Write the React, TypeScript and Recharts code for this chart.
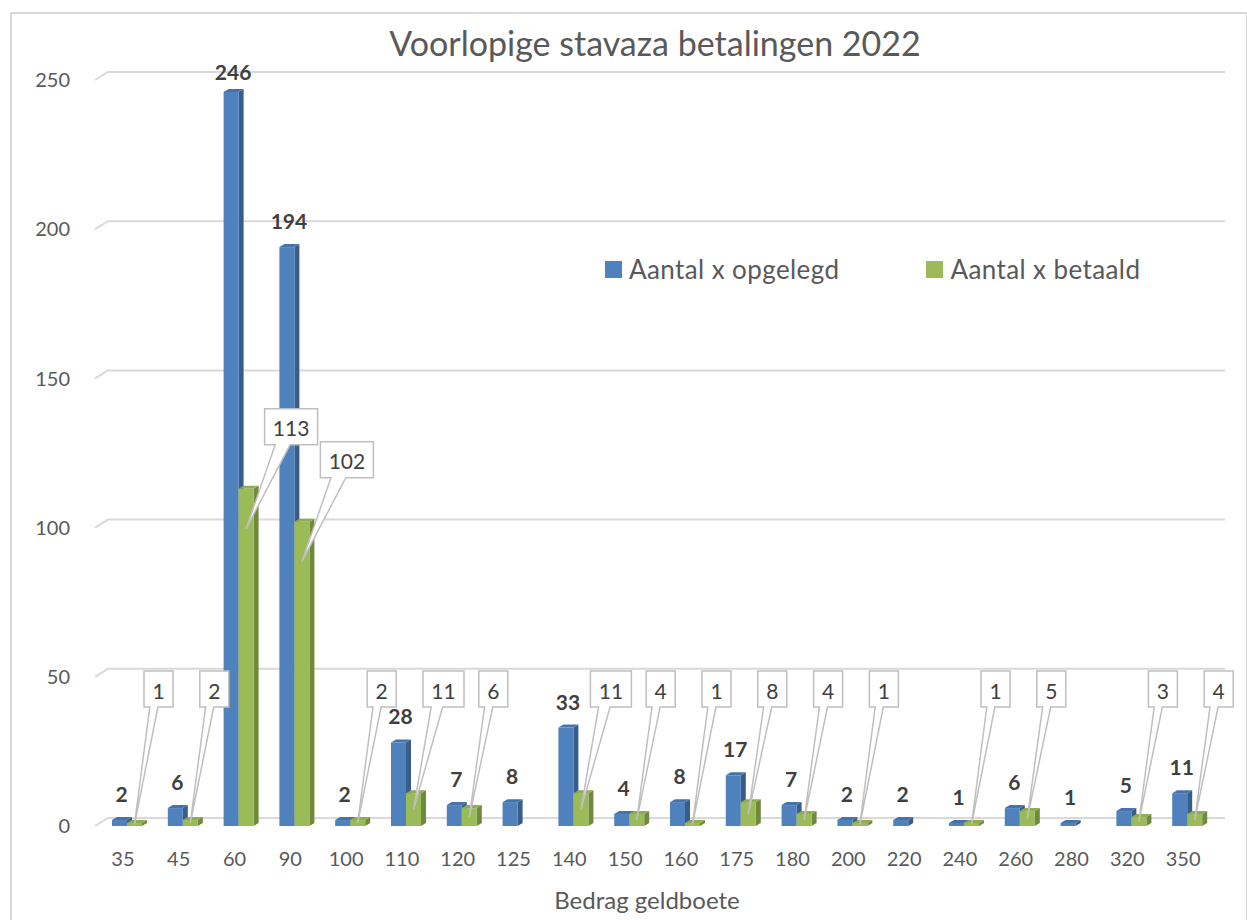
import { BarChart, Bar, XAxis, YAxis, CartesianGrid, LabelList } from 'recharts';

const categories = ['35', '45', '60', '90', '100', '110', '120', '125', '140', '150', '160', '175', '180', '200', '220', '240', '260', '280', '320', '350'];
const opgelegd = [2, 6, 246, 194, 2, 28, 7, 8, 33, 4, 8, 17, 7, 2, 2, 1, 6, 1, 5, 11];
const betaald = [1, 2, 113, 102, 2, 11, 6, null, 11, 4, 1, 8, 4, 1, null, 1, 5, null, 3, 4];
const yTicks = [0, 50, 100, 150, 200, 250];

const data = categories.map((c, i) => ({ bedrag: c, opgelegd: opgelegd[i], betaald: betaald[i] }));

const FONT = 'Lato, "Open Sans", sans-serif';
const SHIFT = 4;
const DX = 5;
const DY = 3;

function bar3d(front: string, side: string, top: string) {
  return (props: any) => {
    const { x, y, width, height } = props;
    if (height == null || width == null) return <g />;
    const x0 = x + SHIFT;
    const r = x0 + width;
    const b = y + height;
    return (
      <g>
        <polygon points={`${r},${y} ${r + DX},${y - DY} ${r + DX},${b - DY} ${r},${b}`} fill={side} />
        <polygon points={`${x0},${y} ${x0 + DX},${y - DY} ${r + DX},${y - DY} ${r},${y}`} fill={top} />
        <rect x={x0} y={y} width={width} height={height} fill={front} />
      </g>
    );
  };
}

const blueLabel = (props: any) => {
  const { x, y, width, value } = props;
  if (value == null) return null;
  return (
    <text x={x + SHIFT + width / 2 + 2} y={Math.max(y - 18, 80)} textAnchor="middle"
      fontFamily={FONT} fontWeight="bold" fontSize={21} fill="#404040">
      {value}
    </text>
  );
};

const greenCallout = (props: any) => {
  const { x, y, width, height, value } = props;
  if (value == null) return null;
  const digits = String(value).length;
  const bw = digits === 1 ? 29 : digits === 2 ? 41 : 53;
  const bh = 36;
  const big = value > 50;
  const left = x + SHIFT + width + (big ? 11 : 2);
  const top = big ? y - 80 : 671;
  const bottom = top + bh;
  const px = x + SHIFT + width / 2;
  const py = Math.min(y + 40, y + height / 2);
  const a = left + bw * 0.2;
  const b = left + bw * 0.48;
  return (
    <g>
      <path
        d={`M${left},${top} L${left + bw},${top} L${left + bw},${bottom} L${b},${bottom} L${px},${py} L${a},${bottom} L${left},${bottom} Z`}
        fill="#ffffff" stroke="#bfbfbf" strokeWidth={1.5} />
      <text x={left + bw / 2} y={top + bh / 2 + 1} textAnchor="middle" dominantBaseline="central"
        fontFamily={FONT} fontSize={21} fill="#404040">
        {value}
      </text>
    </g>
  );
};

const gridLine = (props: any) => {
  const { x1, y1, x2, key } = props;
  return (
    <path key={key} d={`M${x1},${y1} L${x1 + 13},${y1 - 8} L${x2 + 14},${y1 - 8}`}
      stroke="#d9d9d9" strokeWidth={2} fill="none" />
  );
};

export default function App() {
  return (
    <div style={{ position: 'absolute', left: 0, top: 0, width: 1247, height: 920, overflow: 'hidden', background: '#fff' }}>
      <div style={{ position: 'absolute', left: 10, top: 12, width: 1234, height: 940, border: '2px solid #d9d9d9' }} />
      <div style={{ position: 'absolute', left: 0, top: 22, width: 1310, textAlign: 'center', fontFamily: FONT, fontSize: 34, color: '#595959' }}>
        Voorlopige stavaza betalingen 2022
      </div>
      <div style={{ position: 'absolute', left: 605, top: 253, display: 'flex', alignItems: 'center', fontFamily: FONT, fontSize: 26, letterSpacing: 0.4, color: '#595959' }}>
        <span style={{ width: 17, height: 17, background: '#4f81bd', marginRight: 7 }} />
        <span style={{ marginRight: 87 }}>Aantal x opgelegd</span>
        <span style={{ width: 17, height: 17, background: '#9bbb59', marginRight: 7 }} />
        <span>Aantal x betaald</span>
      </div>
      <div style={{ position: 'absolute', left: 0, top: 0 }}>
        <BarChart width={1247} height={920} data={data} barSize={15} barGap={0}
          margin={{ top: 80, right: 36, bottom: 0, left: 0 }}>
          <CartesianGrid vertical={false} horizontal={gridLine} />
          <XAxis dataKey="bedrag" height={94} axisLine={false} tickLine={false} tickSize={0} tickMargin={26}
            tick={{ fontFamily: FONT, fontSize: 20, fill: '#595959' }}
            label={{ value: 'Bedrag geldboete', position: 'insideBottom', offset: 11, dx: -6, fontFamily: FONT, fontSize: 24, fill: '#595959' }} />
          <YAxis width={95} domain={[0, 250]} ticks={yTicks} axisLine={false} tickLine={false} tickSize={0} tickMargin={25}
            tick={{ fontFamily: FONT, fontSize: 20, fill: '#595959' }} />
          <Bar dataKey="opgelegd" isAnimationActive={false} shape={bar3d('#4f81bd', '#385d8a', '#4673aa')}>
            <LabelList dataKey="opgelegd" content={blueLabel} />
          </Bar>
          <Bar dataKey="betaald" isAnimationActive={false} shape={bar3d('#9bbb59', '#6f8a3c', '#8eac50')}>
            <LabelList dataKey="betaald" content={greenCallout} />
          </Bar>
        </BarChart>
      </div>
    </div>
  );
}
